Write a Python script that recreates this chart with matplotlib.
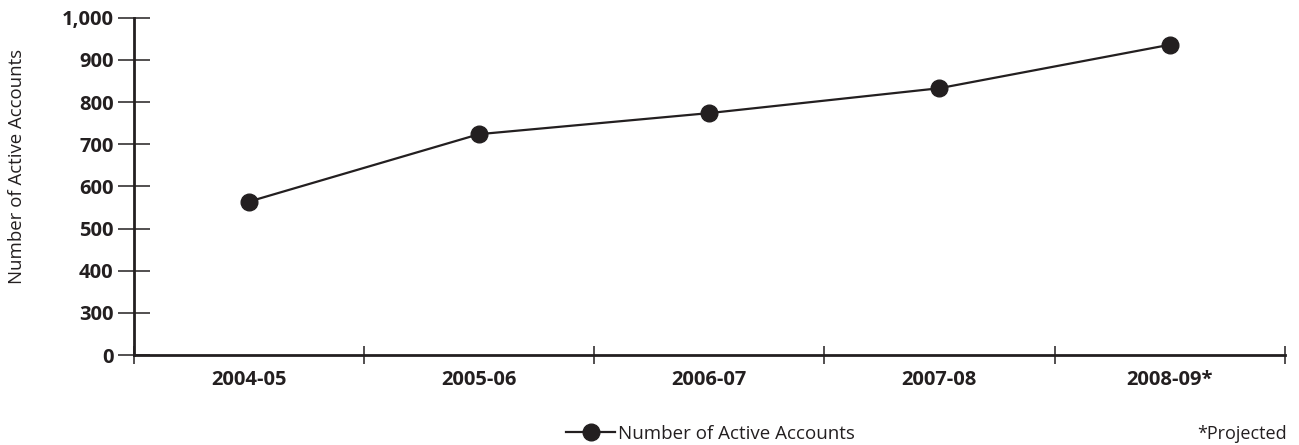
import matplotlib.pyplot as plt
import numpy as np
from matplotlib.scale import FuncScale

# fiscal years and active account counts
years = ["2004-05", "2005-06", "2006-07", "2007-08", "2008-09*"]
accounts = [564, 724, 774, 833, 936]
ytick_vals = [0, 300, 400, 500, 600, 700, 800, 900, 1000]
ytick_labels = ["0", "300", "400", "500", "600", "700", "800", "900", "1,000"]

INK = "#231f20"
FONT = ["Open Sans", "DejaVu Sans"]


# broken axis: 0-300 squeezed into the height of one 100 step
def fwd(v):
    v = np.asarray(v, dtype=float)
    return np.where(v < 300, 200 + v / 3.0, v)


def inv(p):
    p = np.asarray(p, dtype=float)
    return np.where(p < 300, (p - 200) * 3.0, p)


plt.rcParams['font.family'] = FONT

fig = plt.figure(figsize=(12.99, 4.45), dpi=100)
ax = fig.add_axes([0.103, 0.202, 0.886, 0.758])

x = np.arange(len(years)) + 0.5
ax.plot(x, accounts, color=INK, lw=1.6, marker='o', markersize=12,
        markerfacecolor=INK, markeredgecolor=INK, label="Number of Active Accounts",
        clip_on=False)

ax.set_yscale(FuncScale(ax.yaxis, (fwd, inv)))
ax.set_ylim(0, 1000)
ax.set_xlim(0, len(years))

ax.set_yticks(ytick_vals)
ax.set_yticklabels(ytick_labels, fontsize=14.5, fontweight='bold', color=INK)
ax.tick_params(axis='y', direction='inout', length=23, width=1.1, color=INK, pad=3)

ax.set_xticks(np.arange(len(years) + 1))
ax.set_xticklabels([])
ax.tick_params(axis='x', which='major', direction='inout', length=13, width=1.1, color=INK)
ax.set_xticks(x, minor=True)
ax.set_xticklabels(years, minor=True, fontsize=14.5, fontweight='bold', color=INK)
ax.tick_params(axis='x', which='minor', length=0, pad=11)

for side in ['top', 'right']:
    ax.spines[side].set_visible(False)
for side in ['left', 'bottom']:
    ax.spines[side].set_color(INK)
    ax.spines[side].set_linewidth(2)

fig.text(0.013, 0.625, "Number of Active Accounts", rotation=90, ha='center', va='center',
         fontsize=13.4, color=INK)

fig.legend(loc='center', bbox_to_anchor=(0.547, 0.025), frameon=False, fontsize=13.5,
           handlelength=2.6, handletextpad=0.15, labelcolor=INK, borderpad=0.1)

fig.text(0.991, 0.025, "*Projected", ha='right', va='center', fontsize=13, color=INK)

fig.savefig("out.png", dpi=100)
